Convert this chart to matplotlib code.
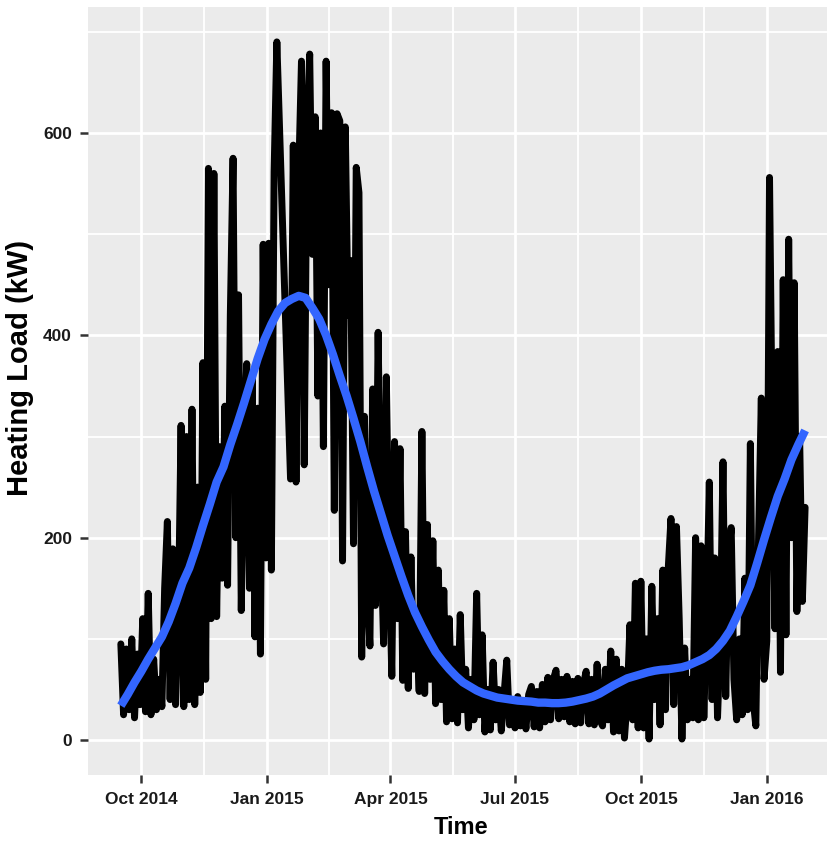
import numpy as np
import pandas as pd
import matplotlib
matplotlib.use("Agg")
import matplotlib.pyplot as plt
import matplotlib.dates as mdates

plt.rcParams["font.family"] = ["Liberation Sans", "DejaVu Sans"]

# heating load, one reading every second day from 2014-09-16 (NaN = logger outage)
nan = np.nan
load = [
    95, 25, 90, 30, 100, 22, 85, 35, 120, 28,
    145, 25, 80, 30, 60, 33, 150, 216, 40, 189,
    35, 120, 311, 33, 300, 40, 327, 35, 250, 47,
    373, 60, 565, 120, 560, 122, 290, 160, 330, 153,
    420, 575, 200, 440, 128, 300, 372, 150, 360, 102,
    328, 85, 490, 180, 491, 168, 562, 690, nan, nan,
    nan, nan, 258, 588, 255, 560, 671, 272, 600, 678,
    480, 616, 340, 600, 290, 671, 450, 620, 227, 619,
    612, 177, 606, 420, 474, 194, 566, 541, 82, 320,
    150, 93, 347, 133, 403, 200, 95, 359, 180, 63,
    295, 120, 288, 59, 206, 51, 181, 70, 120, 48,
    305, 46, 213, 60, 197, 36, 168, 40, 148, 18,
    120, 21, 90, 17, 124, 30, 70, 12, 60, 20,
    145, 25, 104, 8, 50, 10, 77, 20, 50, 9,
    45, 79, 15, 40, 12, 43, 14, 38, 11, 45,
    53, 13, 48, 12, 55, 18, 62, 20, 60, 69,
    21, 60, 23, 63, 18, 58, 16, 61, 17, 55,
    68, 16, 60, 15, 75, 20, 14, 70, 20, 88,
    8, 80, 9, 70, 2, 40, 114, 20, 155, 12,
    157, 12, 100, 1, 152, 40, 120, 15, 168, 30,
    170, 219, 35, 211, 120, 1, 91, 20, 60, 22,
    200, 20, 192, 22, 120, 255, 40, 180, 22, 100,
    275, 43, 180, 210, 60, 20, 100, 25, 160, 30,
    293, 40, 14, 200, 338, 60, 98, 556, 300, 110,
    384, 67, 455, 104, 495, 200, 452, 127, 300, 137, 230,
]

# smoothed trend, every 5 days from the same start
trend = [
    34, 45, 57, 68, 80, 91, 102, 117, 135, 155,
    170, 190, 212, 233, 255, 270, 292, 312, 333, 355,
    377, 396, 411, 424, 432, 436, 439, 437, 427, 416,
    400, 381, 360, 340, 318, 295, 270, 246, 224, 202,
    182, 162, 143, 126, 112, 99, 87, 78, 70, 63,
    57, 53, 49, 46, 44, 42, 41, 40, 39, 38.5,
    38, 37, 37, 36.5, 36.5, 37, 38, 39.5, 41, 43,
    46, 50, 54, 57.5, 61, 63, 65, 67, 68.5, 69.5,
    70, 71, 72, 74, 77, 80, 84, 90, 98, 108,
    122, 137, 153, 175, 198, 220, 241, 258, 277, 292,
    306,
]

tick_dates = ["2014-10-01", "2015-01-01", "2015-04-01",
              "2015-07-01", "2015-10-01", "2016-01-01"]
y_ticks = [0, 200, 400, 600]

series = pd.Series(load, index=pd.date_range("2014-09-16", periods=len(load), freq="2D"))
series = series.dropna()
smooth = pd.Series(trend, index=pd.date_range("2014-09-16", periods=len(trend), freq="5D"))

fig = plt.figure(figsize=(8.27, 8.43), dpi=100)
ax = fig.add_axes([0.1064, 0.0807, 0.8936, 0.911])
ax.set_facecolor("#EBEBEB")
for s in ax.spines.values():
    s.set_visible(False)

ax.plot(series.index, series.values, color="black", lw=5,
        solid_capstyle="round", solid_joinstyle="round", zorder=3)
ax.plot(smooth.index, smooth.values, color="#3366FF", lw=6,
        solid_capstyle="butt", solid_joinstyle="round", zorder=4)

major = mdates.date2num(pd.to_datetime(tick_dates))
minor = (major[:-1] + major[1:]) / 2
ax.set_xticks(major)
ax.set_xticks(minor, minor=True)
ax.xaxis.set_major_formatter(mdates.DateFormatter("%b %Y"))
ax.set_yticks(y_ticks)
ax.set_yticks([100, 300, 500, 700], minor=True)

ax.set_xlim(pd.Timestamp("2014-08-23"), pd.Timestamp("2016-02-14"))
ax.set_ylim(-34.5, 724.5)

ax.grid(which="major", color="white", lw=2.0)
ax.grid(which="minor", color="white", lw=1.3)
ax.set_axisbelow(True)

ax.tick_params(which="major", length=5.5, width=1.8, color="#333333",
               labelsize=12.5, labelcolor="#1a1a1a")
ax.tick_params(axis="x", which="major", pad=7)
ax.tick_params(axis="y", which="major", pad=6)
ax.tick_params(which="minor", length=0)
for lab in ax.get_xticklabels() + ax.get_yticklabels():
    lab.set_fontweight("bold")

ax.set_xlabel("Time", fontsize=17, fontweight="bold")
ax.xaxis.set_label_coords(0.505, -0.053)
ax.set_ylabel("Heating Load (kW)", fontsize=21, fontweight="bold")
ax.yaxis.set_label_coords(-0.073, 0.53)

fig.savefig("out.png", dpi=100)
